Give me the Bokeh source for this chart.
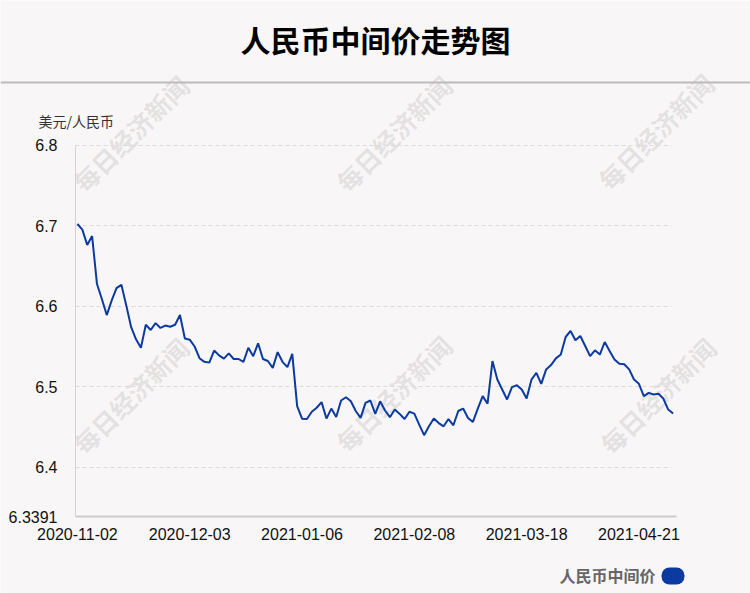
import pandas as pd
from bokeh.plotting import figure
from bokeh.models import (Range1d, FixedTicker, Label, BoxAnnotation, ColumnDataSource,
                          LinearAxis, Grid, Span)
from bokeh.embed import file_html
from bokeh.resources import INLINE

# ---- data ----
start_date = "2020-11-02"
end_date = "2021-04-30"
holidays = ["2021-01-01", "2021-02-11", "2021-02-12", "2021-02-15",
            "2021-02-16", "2021-02-17", "2021-04-05"]
dates = [d.strftime("%Y-%m-%d") for d in
         pd.bdate_range(start_date, end_date, freq="C", holidays=holidays)]

values = [6.702, 6.695, 6.676, 6.687, 6.6275, 6.609, 6.589, 6.607, 6.6225, 6.6265,
          6.601, 6.574, 6.559, 6.5485, 6.577, 6.5705, 6.579, 6.573, 6.576, 6.5745,
          6.577, 6.589, 6.560, 6.5585, 6.550, 6.5355, 6.531, 6.530, 6.545, 6.539,
          6.535, 6.5415, 6.5345, 6.5345, 6.531, 6.5485, 6.538, 6.554, 6.5345, 6.532,
          6.5235, 6.543, 6.531, 6.5245, 6.5408, 6.4760, 6.4604, 6.460, 6.469, 6.474,
          6.481, 6.4606, 6.473, 6.4626, 6.483, 6.487, 6.482, 6.470, 6.4614, 6.480,
          6.483, 6.4664, 6.482, 6.4706, 6.4623, 6.4718, 6.4664, 6.460, 6.469, 6.4668,
          6.453, 6.440, 6.451, 6.4606, 6.455, 6.451, 6.460, 6.4523, 6.470, 6.473,
          6.4614, 6.4564, 6.473, 6.4884, 6.479, 6.532, 6.509, 6.4967, 6.4843, 6.4996,
          6.502, 6.4967, 6.4855, 6.509, 6.5174, 6.5037, 6.5216, 6.527, 6.5353, 6.540,
          6.5618, 6.5693, 6.5577, 6.563, 6.5506, 6.538, 6.5453, 6.540, 6.5556, 6.5444,
          6.534, 6.5286, 6.528, 6.5216, 6.509, 6.5037, 6.4884, 6.4925, 6.4905, 6.4913,
          6.4855, 6.4718, 6.4668]

x_tick_labels = ["2020-11-02", "2020-12-03", "2021-01-06", "2021-02-08",
                 "2021-03-18", "2021-04-21"]
y_ticks = [6.3391, 6.4, 6.5, 6.6, 6.7, 6.8]
y_tick_labels = ["6.3391", "6.4", "6.5", "6.6", "6.7", "6.8"]
grid_ticks = [6.4, 6.5, 6.6, 6.7, 6.8]
y_min, y_max = 6.3391, 6.8

title_text = "人民币中间价走势图"
y_caption = "美元/人民币"
series_name = "人民币中间价"
watermark = "每日经济新闻"

# ---- layout / styles ----
W, H = 750, 593
PL, PR, PT, PB = 75, 676, 144.5, 516       # plot area in canvas pixels
X0, X1 = -0.4, len(dates) - 0.3             # data at plot-area edges
BG = "#f9f6f7"
LINE = "#0b3aa0"
CJK = "Noto Sans CJK SC"
NUM = "Liberation Sans"

xs = (PR - PL) / (X1 - X0)
ys = (PB - PT) / (y_max - y_min)
x_range = Range1d(X0 - PL / xs, X1 + (W - PR) / xs)
y_range = Range1d(y_min - (H - PB) / ys, y_max + PT / ys)

idx = list(range(len(dates)))
src = ColumnDataSource(dict(x=idx, y=values, date=dates))

p = figure(width=W, height=H, output_backend="svg", toolbar_location=None,
           x_range=x_range, y_range=y_range,
           x_axis_location=None, y_axis_location=None)
p.min_border = 0
p.min_border_left = p.min_border_right = p.min_border_top = p.min_border_bottom = 0
p.background_fill_color = BG
p.border_fill_color = BG
p.outline_line_color = None
p.grid.visible = False


def sx(px):
    return px


def sy(py):
    return H - py


# watermarks
for cx, cy in [(130, 133), (393, 133), (655, 131), (130, 395), (393, 393), (657, 395)]:
    p.add_layout(Label(x=sx(cx), y=sy(cy), x_units="screen", y_units="screen",
                       text=watermark, angle=45, angle_units="deg",
                       text_align="center", text_baseline="middle",
                       text_font=CJK, text_font_style="bold", text_font_size="25px",
                       text_color="#8a8a8a", text_alpha=0.2, level="underlay"))

# grid
ygrid = Grid(dimension=1, ticker=FixedTicker(ticks=grid_ticks),
             grid_line_color="#dedada", grid_line_dash="4 3", grid_line_width=1)
cross_ok = False
try:
    ygrid.cross_bounds = (X0, X0 + (671 - PL) / xs)
    cross_ok = True
except Exception:
    cross_ok = False
if cross_ok:
    p.add_layout(ygrid)
else:
    p.segment(x0=[X0] * len(grid_ticks), x1=[X0 + (671 - PL) / xs] * len(grid_ticks),
              y0=grid_ticks, y1=grid_ticks, line_color="#dedada", line_dash="4 3",
              line_width=1)

p.line("x", "y", source=src, line_color=LINE, line_width=2)

# axes (fixed at the plot-area edges)
tick_pos = [dates.index(d) for d in x_tick_labels]
xaxis = LinearAxis(fixed_location=y_min, bounds=(X0, X1),
                   ticker=FixedTicker(ticks=tick_pos),
                   major_label_overrides={t: l for t, l in zip(tick_pos, x_tick_labels)})
yaxis = LinearAxis(fixed_location=X0, bounds=(y_min, y_max),
                   ticker=FixedTicker(ticks=y_ticks),
                   major_label_overrides={t: l for t, l in zip(y_ticks, y_tick_labels)})
for ax in (xaxis, yaxis):
    ax.major_tick_line_color = None
    ax.minor_tick_line_color = None
    ax.major_label_text_font = NUM
    ax.major_label_text_font_size = "16px"
    ax.major_label_text_color = "#111111"
xaxis.axis_line_color = "#cfcbcc"
xaxis.axis_line_width = 2
xaxis.major_label_standoff = 5
yaxis.axis_line_color = "#d6d2d3"
yaxis.axis_line_width = 1
yaxis.major_label_standoff = 12
p.add_layout(xaxis, "below")
p.add_layout(yaxis, "left")

# title and header rule
p.add_layout(Label(x=sx(375), y=sy(38), x_units="screen", y_units="screen",
                   text=title_text, text_align="center", text_baseline="middle",
                   text_font=CJK, text_font_style="bold", text_font_size="30px",
                   text_color="#000000"))
p.add_layout(Span(location=sy(82), location_units="screen", dimension="width",
                  line_color="#bdbabb", line_width=2))

# y caption
p.add_layout(Label(x=sx(38), y=sy(120), x_units="screen", y_units="screen",
                   text=y_caption, text_align="left", text_baseline="middle",
                   text_font=CJK, text_font_size="14px", text_color="#333333"))

# legend
p.add_layout(Label(x=sx(655), y=sy(574), x_units="screen", y_units="screen",
                   text=series_name, text_align="right", text_baseline="middle",
                   text_font=CJK, text_font_style="bold", text_font_size="16px",
                   text_color="#666666"))
p.add_layout(BoxAnnotation(left=sx(661), right=sx(684), top=sy(567), bottom=sy(584),
                           left_units="screen", right_units="screen",
                           top_units="screen", bottom_units="screen",
                           fill_color=LINE, fill_alpha=1, line_color=None,
                           border_radius=8))

open("out.html", "w").write(file_html(p, INLINE))
